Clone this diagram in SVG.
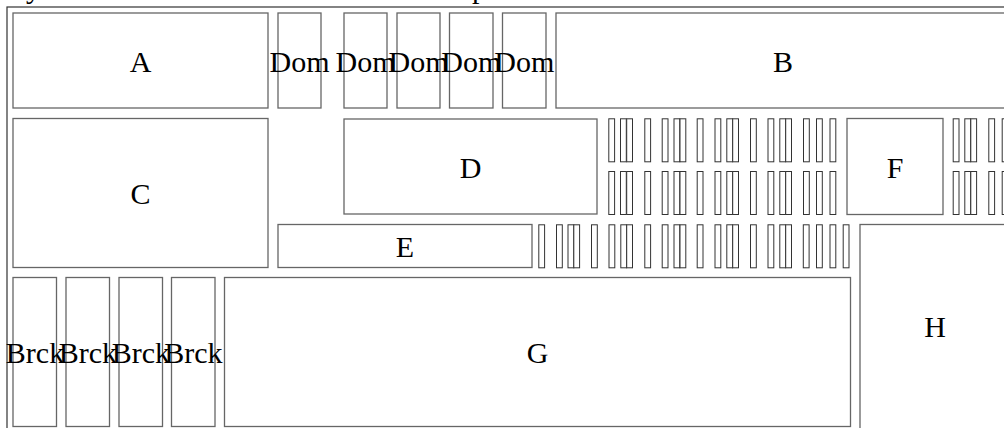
<svg xmlns="http://www.w3.org/2000/svg" width="1004" height="428" viewBox="0 0 1004 428">
  <style>
    .frame { fill: none; stroke: #333; stroke-width: 1.2; }
    .box { fill: #fff; stroke: #666; stroke-width: 1.3; }
    .bar { fill: #fff; stroke: #333; stroke-width: 1; }
    .lbl { font-family: "Liberation Serif", "DejaVu Serif", serif; font-size: 30px; fill: #000; text-anchor: middle; }
    .ttl { font-family: "Liberation Serif", "DejaVu Serif", serif; font-size: 30px; fill: #000; }
  </style>

  <!-- title line sits above the visible area; only descenders reach in -->
  <text class="ttl" x="26" y="-2">y</text>
  <text class="ttl" x="472" y="-2">p</text>

  <!-- outer frame -->
  <rect class="frame" x="7" y="7" width="1010" height="430"/>

  <g id="connectors"/>

  <!-- top row -->
  <g id="A"><rect class="box" x="13" y="13" width="255" height="95"/><text class="lbl" x="140.5" y="72">A</text></g>
  <g id="Dom1"><rect class="box" x="278" y="13" width="43" height="95"/><text class="lbl" x="299.5" y="72">Dom</text></g>
  <g id="Dom2"><rect class="box" x="344" y="13" width="43" height="95"/><text class="lbl" x="365.5" y="72">Dom</text></g>
  <g id="Dom3"><rect class="box" x="397" y="13" width="43" height="95"/><text class="lbl" x="418.5" y="72">Dom</text></g>
  <g id="Dom4"><rect class="box" x="449.5" y="13" width="43.5" height="95"/><text class="lbl" x="471.3" y="72">Dom</text></g>
  <g id="Dom5"><rect class="box" x="502.5" y="13" width="43.5" height="95"/><text class="lbl" x="524.3" y="72">Dom</text></g>
  <g id="B"><rect class="box" x="556" y="13" width="460" height="95"/><text class="lbl" x="783" y="72">B</text></g>

  <!-- middle band -->
  <g id="C"><rect class="box" x="13" y="118.5" width="255" height="149"/><text class="lbl" x="140.5" y="204">C</text></g>
  <g id="D"><rect class="box" x="344" y="119" width="253" height="95"/><text class="lbl" x="470.5" y="178">D</text></g>
  <g id="E"><rect class="box" x="278" y="224.5" width="254" height="43"/><text class="lbl" x="405" y="257">E</text></g>
  <g id="F"><rect class="box" x="847" y="118.5" width="96" height="96"/><text class="lbl" x="895" y="178">F</text></g>

  <!-- narrow bars, rows 1 and 2 -->
  <g id="bars-row1">
    <rect class="bar" x="608.8" y="118.8" width="5.8" height="43"/>
    <rect class="bar" x="620.5" y="118.8" width="5.8" height="43"/>
    <rect class="bar" x="626.7" y="118.8" width="5.8" height="43"/>
    <rect class="bar" x="644.8" y="118.8" width="5.8" height="43"/>
    <rect class="bar" x="662.2" y="118.8" width="5.8" height="43"/>
    <rect class="bar" x="674" y="118.8" width="5.8" height="43"/>
    <rect class="bar" x="680" y="118.8" width="5.8" height="43"/>
    <rect class="bar" x="697.2" y="118.8" width="5.8" height="43"/>
    <rect class="bar" x="715" y="118.8" width="5.8" height="43"/>
    <rect class="bar" x="726.8" y="118.8" width="5.8" height="43"/>
    <rect class="bar" x="732.7" y="118.8" width="5.8" height="43"/>
    <rect class="bar" x="750.5" y="118.8" width="5.8" height="43"/>
    <rect class="bar" x="768" y="118.8" width="5.8" height="43"/>
    <rect class="bar" x="779.8" y="118.8" width="5.8" height="43"/>
    <rect class="bar" x="785.7" y="118.8" width="5.8" height="43"/>
    <rect class="bar" x="803.5" y="118.8" width="5.8" height="43"/>
    <rect class="bar" x="816.5" y="118.8" width="5.8" height="43"/>
    <rect class="bar" x="830" y="118.8" width="5.8" height="43"/>
    <rect class="bar" x="953.2" y="118.8" width="5.8" height="43"/>
    <rect class="bar" x="964.8" y="118.8" width="5.8" height="43"/>
    <rect class="bar" x="970.8" y="118.8" width="5.8" height="43"/>
    <rect class="bar" x="988.8" y="118.8" width="5.8" height="43"/>
    <rect class="bar" x="1002.2" y="118.8" width="5.8" height="43"/>
  </g>
  <g id="bars-row2">
    <rect class="bar" x="608.8" y="171.5" width="5.8" height="43"/>
    <rect class="bar" x="620.5" y="171.5" width="5.8" height="43"/>
    <rect class="bar" x="626.7" y="171.5" width="5.8" height="43"/>
    <rect class="bar" x="644.8" y="171.5" width="5.8" height="43"/>
    <rect class="bar" x="662.2" y="171.5" width="5.8" height="43"/>
    <rect class="bar" x="674" y="171.5" width="5.8" height="43"/>
    <rect class="bar" x="680" y="171.5" width="5.8" height="43"/>
    <rect class="bar" x="697.2" y="171.5" width="5.8" height="43"/>
    <rect class="bar" x="715" y="171.5" width="5.8" height="43"/>
    <rect class="bar" x="726.8" y="171.5" width="5.8" height="43"/>
    <rect class="bar" x="732.7" y="171.5" width="5.8" height="43"/>
    <rect class="bar" x="750.5" y="171.5" width="5.8" height="43"/>
    <rect class="bar" x="768" y="171.5" width="5.8" height="43"/>
    <rect class="bar" x="779.8" y="171.5" width="5.8" height="43"/>
    <rect class="bar" x="785.7" y="171.5" width="5.8" height="43"/>
    <rect class="bar" x="803.5" y="171.5" width="5.8" height="43"/>
    <rect class="bar" x="816.5" y="171.5" width="5.8" height="43"/>
    <rect class="bar" x="830" y="171.5" width="5.8" height="43"/>
    <rect class="bar" x="953.2" y="171.5" width="5.8" height="43"/>
    <rect class="bar" x="964.8" y="171.5" width="5.8" height="43"/>
    <rect class="bar" x="970.8" y="171.5" width="5.8" height="43"/>
    <rect class="bar" x="988.8" y="171.5" width="5.8" height="43"/>
    <rect class="bar" x="1002.2" y="171.5" width="5.8" height="43"/>
  </g>
  <!-- narrow bars, row 3 beside E -->
  <g id="bars-row3">
    <rect class="bar" x="538.8" y="224.8" width="5.8" height="43"/>
    <rect class="bar" x="556.5" y="224.8" width="5.8" height="43"/>
    <rect class="bar" x="568" y="224.8" width="5.8" height="43"/>
    <rect class="bar" x="573.8" y="224.8" width="5.8" height="43"/>
    <rect class="bar" x="591.5" y="224.8" width="5.8" height="43"/>
    <rect class="bar" x="609" y="224.8" width="5.8" height="43"/>
    <rect class="bar" x="620.8" y="224.8" width="5.8" height="43"/>
    <rect class="bar" x="626.7" y="224.8" width="5.8" height="43"/>
    <rect class="bar" x="644.8" y="224.8" width="5.8" height="43"/>
    <rect class="bar" x="662.2" y="224.8" width="5.8" height="43"/>
    <rect class="bar" x="674" y="224.8" width="5.8" height="43"/>
    <rect class="bar" x="680" y="224.8" width="5.8" height="43"/>
    <rect class="bar" x="697.2" y="224.8" width="5.8" height="43"/>
    <rect class="bar" x="715" y="224.8" width="5.8" height="43"/>
    <rect class="bar" x="726.8" y="224.8" width="5.8" height="43"/>
    <rect class="bar" x="732.7" y="224.8" width="5.8" height="43"/>
    <rect class="bar" x="750.5" y="224.8" width="5.8" height="43"/>
    <rect class="bar" x="768" y="224.8" width="5.8" height="43"/>
    <rect class="bar" x="779.8" y="224.8" width="5.8" height="43"/>
    <rect class="bar" x="785.7" y="224.8" width="5.8" height="43"/>
    <rect class="bar" x="803.3" y="224.8" width="5.8" height="43"/>
    <rect class="bar" x="816.5" y="224.8" width="5.8" height="43"/>
    <rect class="bar" x="830" y="224.8" width="5.8" height="43"/>
    <rect class="bar" x="843.2" y="224.8" width="5.8" height="43"/>
  </g>

  <!-- bottom row -->
  <g id="Brck1"><rect class="box" x="13" y="277.5" width="43.5" height="149"/><text class="lbl" x="35" y="363">Brck</text></g>
  <g id="Brck2"><rect class="box" x="66" y="277.5" width="43.5" height="149"/><text class="lbl" x="87.8" y="363">Brck</text></g>
  <g id="Brck3"><rect class="box" x="119" y="277.5" width="43.5" height="149"/><text class="lbl" x="140.8" y="363">Brck</text></g>
  <g id="Brck4"><rect class="box" x="171.5" y="277.5" width="43.5" height="149"/><text class="lbl" x="193.3" y="363">Brck</text></g>
  <g id="G"><rect class="box" x="224.5" y="277.5" width="626" height="149"/><text class="lbl" x="537.5" y="363">G</text></g>
  <g id="H"><rect class="box" x="860" y="224.5" width="156" height="210"/><text class="lbl" x="935" y="337">H</text></g>
</svg>
